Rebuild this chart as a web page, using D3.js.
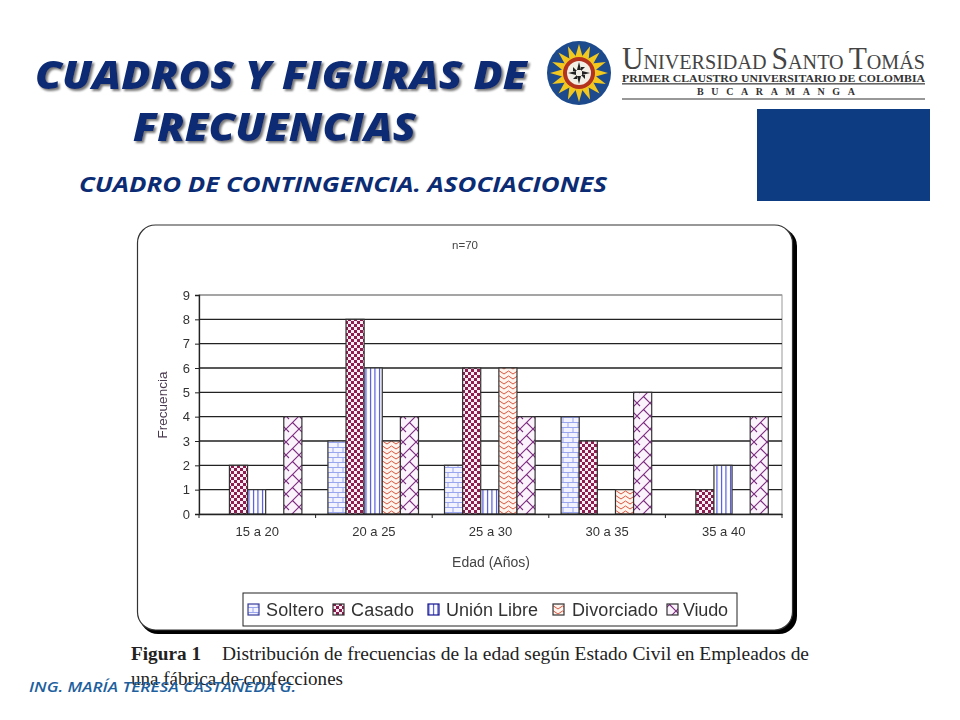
<!DOCTYPE html>
<html><head><meta charset="utf-8">
<script src="https://cdn.jsdelivr.net/npm/d3@7"></script>
<style>html,body{margin:0;padding:0;background:#fff}svg{display:block}</style>
</head><body><svg id="c" width="960" height="720"></svg>
<script>
const categories=["15 a 20","20 a 25","25 a 30","30 a 35","35 a 40"];
const seriesNames=["Soltero","Casado","Unión Libre","Divorciado","Viudo"];
const soltero=[0,3,2,4,0];
const casado=[2,8,6,3,1];
const unionLibre=[1,6,1,0,2];
const divorciado=[0,3,6,1,0];
const viudo=[4,4,4,5,4];
const seriesValues=[soltero,casado,unionLibre,divorciado,viudo];
const yTicks=[0,1,2,3,4,5,6,7,8,9];

const svg=d3.select("#c");
const defs=svg.append("defs");
const serif="'Liberation Serif',serif", sans="'Liberation Sans',Arial,sans-serif", head="'Open Sans',Lato,sans-serif";

// fill patterns
let p=defs.append("pattern").attr("id","p0").attr("patternUnits","userSpaceOnUse").attr("width",10).attr("height",10);
p.append("rect").attr("width",10).attr("height",10).attr("fill","#f2f3ff");
p.append("path").attr("d","M0 2.5H10M0 7.5H10M3 0V2.5M8 2.5V7.5M3 7.5V10").attr("stroke","#9aa6ee").attr("stroke-width",1).attr("fill","none");
p=defs.append("pattern").attr("id","p1").attr("patternUnits","userSpaceOnUse").attr("width",6).attr("height",6);
p.append("rect").attr("width",6).attr("height",6).attr("fill","#f8eef4");
p.append("rect").attr("width",3).attr("height",3).attr("fill","#8e1f50");
p.append("rect").attr("x",3).attr("y",3).attr("width",3).attr("height",3).attr("fill","#8e1f50");
p=defs.append("pattern").attr("id","p2").attr("patternUnits","userSpaceOnUse").attr("width",4.5).attr("height",10);
p.append("rect").attr("width",4.5).attr("height",10).attr("fill","#fff");
p.append("path").attr("d","M1.5 0V10").attr("stroke","#2a35d8").attr("stroke-width",1);
p=defs.append("pattern").attr("id","p3").attr("patternUnits","userSpaceOnUse").attr("width",9).attr("height",5);
p.append("rect").attr("width",9).attr("height",5).attr("fill","#fff4ee");
p.append("path").attr("d","M0 4L4.5 1L9 4").attr("stroke","#d9563f").attr("stroke-width",1).attr("fill","none");
p=defs.append("pattern").attr("id","p4").attr("patternUnits","userSpaceOnUse").attr("width",13).attr("height",13);
p.append("rect").attr("width",13).attr("height",13).attr("fill","#fbf3fb");
p.append("path").attr("d","M0 13L13 0M6.5 6.5L13 13M0 0L3 3").attr("stroke","#7c2a80").attr("stroke-width",1.1).attr("fill","none");
defs.append("filter").attr("id","soft").append("feGaussianBlur").attr("stdDeviation",0.45);
defs.append("filter").attr("id","tshadow").append("feDropShadow").attr("dx",2).attr("dy",2).attr("stdDeviation",1).attr("flood-color","#777");

// slide header
const titleG=svg.append("g").attr("font-family",head).attr("font-weight",800).attr("font-style","italic").attr("font-size",38).attr("fill","#0b2c74").attr("filter","url(#tshadow)");
[["CUADROS Y FIGURAS DE",35,89,492],["FRECUENCIAS",133,141,283]].forEach(d=>{
  titleG.append("text").attr("x",d[1]).attr("y",d[2]).attr("textLength",d[3]).attr("lengthAdjust","spacingAndGlyphs").text(d[0]);
});
svg.append("text").attr("x",79).attr("y",192).attr("font-family",head).attr("font-weight",700).attr("font-style","italic").attr("font-size",21).attr("fill","#0b2c74").attr("textLength",528).attr("lengthAdjust","spacingAndGlyphs").text("CUADRO DE CONTINGENCIA. ASOCIACIONES");
svg.append("rect").attr("x",757).attr("y",109).attr("width",173).attr("height",92).attr("fill","#0d3c82");

// logo
const logo=svg.append("g");
logo.append("circle").attr("cx",579).attr("cy",73).attr("r",32).attr("fill","#1c4a8c");
const rays=d3.range(16);
logo.selectAll("path.ray").data(rays).join("path").attr("class","ray")
  .attr("d","M-4 -15L0 -29L4 -15Z").attr("fill","#f2c81f")
  .attr("transform",d=>`translate(579,73) rotate(${d*22.5})`);
logo.append("circle").attr("cx",579).attr("cy",73).attr("r",16).attr("fill","#b3331f");
logo.append("circle").attr("cx",579).attr("cy",73).attr("r",12).attr("fill","#f2efe6");
logo.selectAll("path.cross").data([0,90,180,270]).join("path").attr("class","cross")
  .attr("d","M-2 -3L0 -11L2 -3Z M-6 -6L-2 -2L-6 -2Z").attr("fill","#222")
  .attr("transform",d=>`translate(579,73) rotate(${d})`);
const lt=svg.append("g").attr("font-family",serif).attr("fill","#444");
const uni=lt.append("text").attr("x",622).attr("y",69).attr("font-size",21).attr("textLength",303).attr("lengthAdjust","spacingAndGlyphs");
[["U",31],["NIVERSIDAD ",21],["S",31],["ANTO ",21],["T",31],["OMÁS",21]].forEach(d=>uni.append("tspan").attr("font-size",d[1]).text(d[0]));
lt.append("text").attr("x",622).attr("y",82).attr("font-size",11).attr("font-weight",700).attr("fill","#333").attr("textLength",303).attr("lengthAdjust","spacingAndGlyphs").text("PRIMER CLAUSTRO UNIVERSITARIO DE COLOMBIA");
svg.append("rect").attr("x",622).attr("y",83).attr("width",303).attr("height",1.6).attr("fill","#666");
lt.append("text").attr("x",697).attr("y",95).attr("font-size",10).attr("font-weight",700).attr("fill","#333").attr("textLength",158).text("BUCARAMANGA");
svg.append("rect").attr("x",622).attr("y",98.5).attr("width",303).attr("height",1).attr("fill","#333");

// chart frame
svg.append("rect").attr("x",140).attr("y",228).attr("width",657).attr("height",406).attr("rx",18).attr("fill","#000");
svg.append("rect").attr("x",137.5).attr("y",225).attr("width",655).attr("height",405).attr("rx",18).attr("fill","#fff").attr("stroke","#333").attr("stroke-width",1.2);

// scales
const M={l:199,r:782,t:295,b:514};
const x0=d3.scaleBand().domain(categories).range([M.l,M.r]);
const x1=d3.scaleBand().domain(seriesNames).range([12.3,x0.bandwidth()-13.7]);
const y=d3.scaleLinear().domain([0,9]).range([M.b,M.t]);

const chart=svg.append("g").attr("filter","url(#soft)");
chart.append("rect").attr("x",M.l).attr("y",M.t).attr("width",M.r-M.l).attr("height",M.b-M.t).attr("fill","#fff").attr("stroke","#999");

// gridlines
chart.append("g").selectAll("line").data(yTicks.filter(d=>d>0)).join("line")
 .attr("x1",M.l).attr("x2",M.r).attr("y1",d=>y(d)).attr("y2",d=>y(d))
 .attr("stroke",d=>d===9?"#999":"#222").attr("stroke-width",1.3);

// bars
const bars=chart.append("g");
categories.forEach((c,i)=>{
  seriesNames.forEach((s,j)=>{
    const v=seriesValues[j][i];
    if(!v) return;
    bars.append("rect").attr("x",x0(c)+x1(s)).attr("y",y(v)).attr("width",x1.bandwidth()).attr("height",y(0)-y(v))
      .attr("fill",`url(#p${j})`).attr("stroke","#333").attr("stroke-width",1.2);
  });
});

// axes
const yAxis=d3.axisLeft(y).tickValues(yTicks).tickSize(4).tickPadding(5);
const gy=chart.append("g").attr("transform",`translate(${M.l},0)`).call(yAxis);
const xAxis=d3.axisBottom(x0).tickSize(0).tickPadding(13);
const gx=chart.append("g").attr("transform",`translate(0,${M.b})`).call(xAxis);
chart.append("g").selectAll("line").data(d3.range(categories.length+1)).join("line")
  .attr("x1",d=>M.l+d*x0.step()).attr("x2",d=>M.l+d*x0.step()).attr("y1",M.b).attr("y2",M.b+4).attr("stroke","#222");
[gy,gx].forEach(g=>{g.selectAll(".domain").attr("stroke","#222").attr("stroke-width",1.3);g.selectAll(".tick line").attr("stroke","#222");
  g.selectAll("text").attr("font-family",sans).attr("font-size",13).attr("fill","#333");});

chart.append("text").attr("x",465).attr("y",249).attr("text-anchor","middle").attr("font-family",sans).attr("font-size",11.5).attr("fill","#444").text("n=70");
chart.append("text").attr("x",491).attr("y",567).attr("text-anchor","middle").attr("font-family",sans).attr("font-size",14).attr("fill","#444").text("Edad (Años)");
chart.append("text").attr("transform","translate(167,405) rotate(-90)").attr("text-anchor","middle").attr("font-family",sans).attr("font-size",13.5).attr("fill","#4a3a50").text("Frecuencia");

// legend
const lg=svg.append("g").attr("filter","url(#soft)");
lg.append("rect").attr("x",243).attr("y",593).attr("width",494).attr("height",33).attr("fill","#fff").attr("stroke","#222").attr("stroke-width",1);
const legX=[248,333,428,553,667], legT=[266,351,446,572,683], legL=[58,63,92,86,45];
const strokes=["#3a3f9a","#333","#14148c","#333","#333"];
seriesNames.forEach((s,j)=>{
  lg.append("rect").attr("x",legX[j]).attr("y",604).attr("width",11).attr("height",11).attr("fill",`url(#p${j})`).attr("stroke",strokes[j]).attr("stroke-width",1.2);
  lg.append("text").attr("x",legT[j]).attr("y",616).attr("font-family",sans).attr("font-size",18).attr("fill","#333").attr("textLength",legL[j]).text(s);
});

// caption
const cap=svg.append("g").attr("font-family",serif).attr("font-size",18).attr("fill","#222");
cap.append("text").attr("x",131).attr("y",660).attr("font-weight",700).attr("textLength",70).attr("lengthAdjust","spacingAndGlyphs").text("Figura 1");
cap.append("text").attr("x",222).attr("y",660).attr("textLength",587).attr("lengthAdjust","spacingAndGlyphs").text("Distribución de frecuencias de la edad según Estado Civil en Empleados de");
cap.append("text").attr("x",131).attr("y",685).attr("textLength",212).attr("lengthAdjust","spacingAndGlyphs").text("una fábrica de confecciones");
svg.append("text").attr("x",29).attr("y",692).attr("font-family",head).attr("font-style","italic").attr("font-weight",600).attr("font-size",15).attr("fill","#1e5f9e").attr("textLength",267).attr("lengthAdjust","spacingAndGlyphs").text("ING. MARÍA TERESA CASTAÑEDA G.");
</script></body></html>
